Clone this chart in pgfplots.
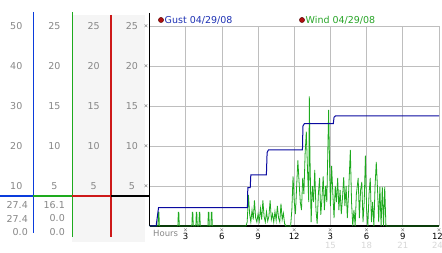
\documentclass[border=0pt]{standalone}
\usepackage{pgfplots}
\pgfplotsset{compat=1.18}
\usepackage{fontspec}
\setmainfont{DejaVu Sans}
\definecolor{gustline}{RGB}{10,10,160}
\definecolor{gusttext}{RGB}{30,50,180}
\definecolor{windline}{RGB}{30,170,30}
\definecolor{windtext}{RGB}{40,165,40}
\definecolor{lbl}{RGB}{135,135,135}
\definecolor{lightlbl}{RGB}{215,215,215}
\definecolor{colblue}{RGB}{10,60,220}
\definecolor{colgreen}{RGB}{30,170,30}
\definecolor{colred}{RGB}{205,25,25}
\definecolor{panel}{RGB}{245,245,245}
\definecolor{gridc}{RGB}{190,190,190}
\definecolor{dotred}{RGB}{175,15,15}
\begin{document}
\begin{tikzpicture}[x=1pt,y=1pt]
\useasboundingbox (0,0) rectangle (442,253);
\fill[white] (0,0) rectangle (442,253);
\fill[panel] (72,11) rectangle (145,238);
% scale labels
\begin{scope}[every node/.style={font=\fontsize{9.5}{11}\selectfont, text=lbl, inner sep=0pt}]
\foreach \v/\Y in {50/227,40/187,30/147,20/107,10/67}{\node[anchor=east] at (22.5,\Y) {\v};}
\foreach \v/\Y in {25/227,20/187,15/147,10/107,5/67}{
  \node at (54.5,\Y) {\v};
  \node at (93.7,\Y) {\v};
  \node at (132,\Y) {\v};}
\node[anchor=east] at (28,48) {27.4};
\node[anchor=east] at (28,34.5) {27.4};
\node[anchor=east] at (28,21.3) {0.0};
\node[anchor=east] at (65,48) {16.1};
\node[anchor=east] at (65,34.5) {0.0};
\node[anchor=east] at (65,21.3) {0.0};
\node[anchor=west, font=\fontsize{8.5}{10}\selectfont] at (153,20) {Hours};
\end{scope}
% column lines
\draw[colblue, line width=1.4pt] (33.3,241) -- (33.3,20);
\draw[colgreen, line width=1.4pt] (72.3,241) -- (72.3,16);
\draw[colred, line width=1.4pt] (111,238) -- (111,16);
\draw[colblue, line width=2pt] (0,57) -- (33.3,57);
\draw[colgreen, line width=2pt] (33.3,57) -- (72.3,57);
\draw[colred, line width=2pt] (72.3,57) -- (111,57);
\draw[black, line width=2pt] (111,57) -- (149.5,57);
\draw[black, line width=1.5pt] (149.5,240) -- (149.5,226);
% legend
\fill[dotred, draw=black!70!red, line width=0.4pt] (161,233) circle (2.6);
\node[anchor=west, inner sep=0pt, text=gusttext, font=\fontsize{9.5}{11}\selectfont] at (164.5,233) {Gust 04/29/08};
\fill[dotred, draw=black!70!red, line width=0.4pt] (302,233) circle (2.6);
\node[anchor=west, inner sep=0pt, text=windtext, font=\fontsize{9.5}{11}\selectfont] at (305.5,233) {Wind 04/29/08};
\begin{axis}[
  at={(149.5pt,27pt)}, anchor=south west,
  scale only axis, width=289.5pt, height=200pt,
  xmin=0, xmax=24, ymin=0, ymax=25,
  axis x line*=bottom, axis y line*=left,
  axis line style={black, line width=1.5pt, -},
  grid=major, grid style={gridc, line width=0.7pt},
  major tick length=0pt,
  xtick={3,6,9,12,15,18,21,24},
  xticklabels={{{\tiny$\times$}\\3},{{\tiny$\times$}\\6},{{\tiny$\times$}\\9},{{\tiny$\times$}\\12},
    {{\tiny$\times$}\\3\\\textcolor{lightlbl}{15}},{{\tiny$\times$}\\6\\\textcolor{lightlbl}{18}},
    {{\tiny$\times$}\\9\\\textcolor{lightlbl}{21}},{{\tiny$\times$}\\\hspace*{-3pt}12\\\hspace*{-3pt}\textcolor{lightlbl}{24}}},
  xticklabel style={align=center, font=\fontsize{8.5}{8.5}\selectfont, inner sep=0pt, anchor=north, yshift=-1.5pt},
  ytick={5,10,15,20,25},
  yticklabels={{\tiny$\times$},{\tiny$\times$},{\tiny$\times$},{\tiny$\times$},{\tiny$\times$}},
  yticklabel style={inner sep=0pt, anchor=east, xshift=-0.5pt},
  clip=false,
]
\addplot[windline, line width=0.8pt] coordinates {
(0,0) (0.70,0) (0.74,1.7) (0.78,1.7) (0.82,0) (2.35,0) (2.39,1.7) (2.43,1.7) (2.47,0)
(3.51,0) (3.55,1.7) (3.59,1.7) (3.63,0) (3.84,0) (3.88,1.7) (3.92,1.7) (3.96,0)
(4.09,0) (4.13,1.7) (4.17,1.7) (4.21,0) (4.84,0) (4.88,1.7) (4.92,1.7) (4.96,0)
(5.09,0) (5.13,1.7) (5.17,1.7) (5.21,0) (8.0,0)
(8.1,0.5) (8.2,3.9) (8.3,1.5) (8.4,0.5) (8.5,2) (8.6,0.8) (8.7,3.2) (8.8,1) (8.9,0.5)
(9.0,1.5) (9.1,0.6) (9.2,2.2) (9.3,0.8) (9.4,3.2) (9.5,1.2) (9.6,0.5) (9.7,1.8) (9.8,0.6) (9.9,1.2)
(10.0,3.2) (10.1,0.8) (10.2,1.5) (10.3,0.5) (10.4,1.8) (10.5,0.7) (10.6,2.5) (10.7,1) (10.8,0.5) (10.9,2.8)
(11.0,0.8) (11.1,1.6) (11.2,0.3) (11.3,0) (11.7,0)
(11.8,2) (11.9,6.2) (12.0,3) (12.1,1.5) (12.2,5) (12.3,8.2) (12.4,5.5) (12.5,3) (12.6,2) (12.7,6) (12.8,4) (12.9,9)
(13.0,11.8) (13.1,7) (13.2,3) (13.25,16.2) (13.3,9) (13.4,0.5) (13.5,5) (13.6,3) (13.7,7) (13.8,2) (13.9,0.3)
(14.0,4) (14.1,6) (14.2,1.4) (14.3,3.5) (14.4,6.2) (14.5,2) (14.6,5) (14.7,3) (14.85,14.5) (14.95,6)
(15.0,2.5) (15.1,7.5) (15.2,4) (15.3,1) (15.4,5) (15.5,3) (15.6,6) (15.7,2) (15.8,4.5) (15.9,1.5)
(16.0,3.5) (16.1,6.1) (16.2,2.5) (16.3,5) (16.4,1) (16.5,4) (16.65,9.5) (16.75,3) (16.85,0) (16.95,2)
(17.05,0) (17.15,4) (17.3,6) (17.4,1) (17.5,4.5) (17.6,5.5) (17.7,0.5) (17.8,3) (17.9,8.8)
(18.0,2) (18.1,0) (18.2,4) (18.3,6) (18.4,0.5) (18.5,3) (18.6,0) (18.7,5) (18.8,8) (18.9,4.75)
(19.0,0.5) (19.1,4.9) (19.2,0) (19.3,4.9) (19.4,0) (19.5,4.9) (19.6,0) (24,0)
};
\addplot[gustline, line width=1pt] coordinates {
(0,0) (0.55,0) (0.75,2.3) (8.12,2.3) (8.15,4.8) (8.35,4.8) (8.4,6.4) (9.69,6.4) (9.75,9.2) (9.86,9.5)
(12.68,9.5) (12.72,12.5) (12.84,12.8) (15.24,12.8) (15.3,13.6) (15.41,13.75) (24,13.75)
};
\end{axis}
\end{tikzpicture}
\end{document}
